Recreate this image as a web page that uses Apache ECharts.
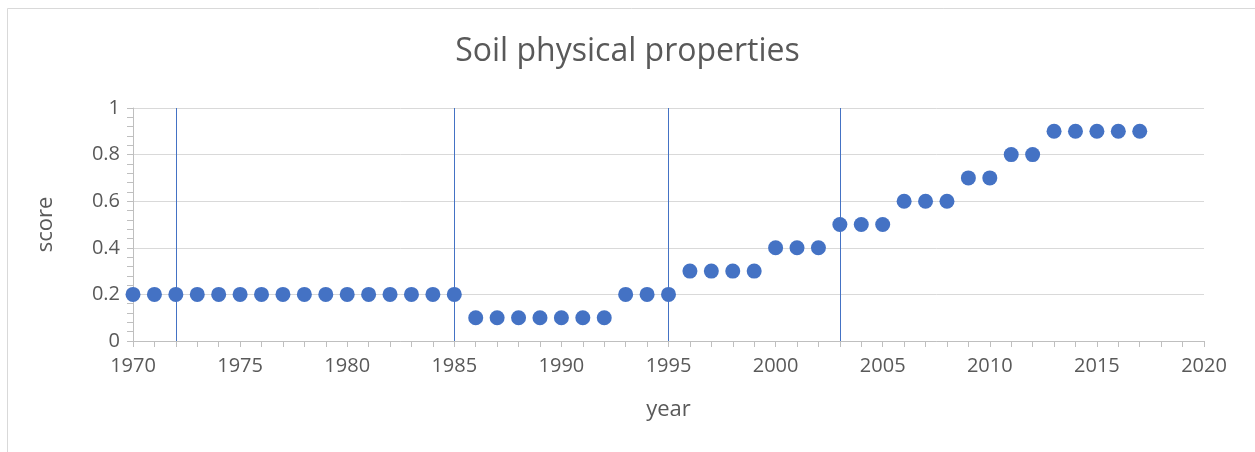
<!DOCTYPE html>
<html>
<head>
<meta charset="utf-8">
<script src="https://cdn.jsdelivr.net/npm/echarts@6/dist/echarts.min.js"></script>
<style>
  html, body { margin: 0; padding: 0; background: #fff; }
  #chart { width: 1255px; height: 452px; }
</style>
</head>
<body>
<div id="chart"></div>
<script>
// data
var years = [1970, 1971, 1972, 1973, 1974, 1975, 1976, 1977, 1978, 1979,
  1980, 1981, 1982, 1983, 1984, 1985, 1986, 1987, 1988, 1989,
  1990, 1991, 1992, 1993, 1994, 1995, 1996, 1997, 1998, 1999,
  2000, 2001, 2002, 2003, 2004, 2005, 2006, 2007, 2008, 2009,
  2010, 2011, 2012, 2013, 2014, 2015, 2016, 2017];
var scores = [0.2, 0.2, 0.2, 0.2, 0.2, 0.2, 0.2, 0.2, 0.2, 0.2,
  0.2, 0.2, 0.2, 0.2, 0.2, 0.2, 0.1, 0.1, 0.1, 0.1,
  0.1, 0.1, 0.1, 0.2, 0.2, 0.2, 0.3, 0.3, 0.3, 0.3,
  0.4, 0.4, 0.4, 0.5, 0.5, 0.5, 0.6, 0.6, 0.6, 0.7,
  0.7, 0.8, 0.8, 0.9, 0.9, 0.9, 0.9, 0.9];
var breakYears = [1972, 1985, 1995, 2003];

var font = "'Open Sans', 'Liberation Sans', sans-serif";
var textColor = "#595959";
var blue = "#4472C4";

var chart = echarts.init(document.getElementById("chart"), null, { renderer: "canvas" });

var points = [];
for (var i = 0; i < years.length; i++) {
  points.push([years[i], scores[i]]);
}

var option = {
  animation: false,
  backgroundColor: "#fff",
  graphic: [
    {
      type: "rect",
      shape: { x: 7.5, y: 8.5, width: 1300, height: 500 },
      style: { fill: "none", stroke: "#d9d9d9", lineWidth: 1 },
      silent: true
    }
  ],
  title: {
    text: "Soil physical properties",
    left: "center",
    top: 31,
    textStyle: {
      fontFamily: font,
      fontSize: 32,
      fontWeight: "normal",
      color: textColor
    }
  },
  grid: {
    left: 133,
    right: 51,
    top: 108,
    bottom: 111
  },
  xAxis: {
    type: "value",
    min: 1970,
    max: 2020,
    interval: 5,
    name: "year",
    nameLocation: "middle",
    nameGap: 58,
    nameTextStyle: { fontFamily: font, fontSize: 22, color: textColor },
    axisLine: { show: true, lineStyle: { color: "#bfbfbf", width: 1 } },
    axisTick: { show: true, length: 6, lineStyle: { color: "#bfbfbf" } },
    minorTick: { show: true, splitNumber: 5, length: 6, lineStyle: { color: "#bfbfbf" } },
    splitLine: { show: false },
    axisLabel: {
      fontFamily: font,
      fontSize: 20,
      color: textColor,
      margin: 15,
      formatter: function (v) { return String(v); }
    }
  },
  yAxis: {
    type: "value",
    min: 0,
    max: 1,
    interval: 0.2,
    name: "score",
    nameLocation: "middle",
    nameGap: 76,
    nameRotate: 90,
    nameTextStyle: { fontFamily: font, fontSize: 22, color: textColor },
    axisLine: { show: true, lineStyle: { color: "#bfbfbf", width: 1 } },
    axisTick: { show: true, length: 6, lineStyle: { color: "#bfbfbf" } },
    minorTick: { show: true, splitNumber: 5, length: 6, lineStyle: { color: "#bfbfbf" } },
    splitLine: { show: true, lineStyle: { color: "#d9d9d9", width: 1 } },
    axisLabel: {
      fontFamily: font,
      fontSize: 20,
      color: textColor,
      margin: 13,
      formatter: function (v) { return String(Math.round(v * 10) / 10); }
    }
  },
  series: [
    {
      type: "scatter",
      data: points,
      symbol: "circle",
      symbolSize: 15,
      itemStyle: { color: blue, opacity: 1 },
      z: 3,
      markLine: {
        silent: true,
        symbol: ["none", "none"],
        label: { show: false },
        lineStyle: { color: blue, width: 1, type: "solid", opacity: 1 },
        data: breakYears.map(function (y) { return { xAxis: y }; })
      }
    }
  ]
};

chart.setOption(option);
</script>
</body>
</html>
